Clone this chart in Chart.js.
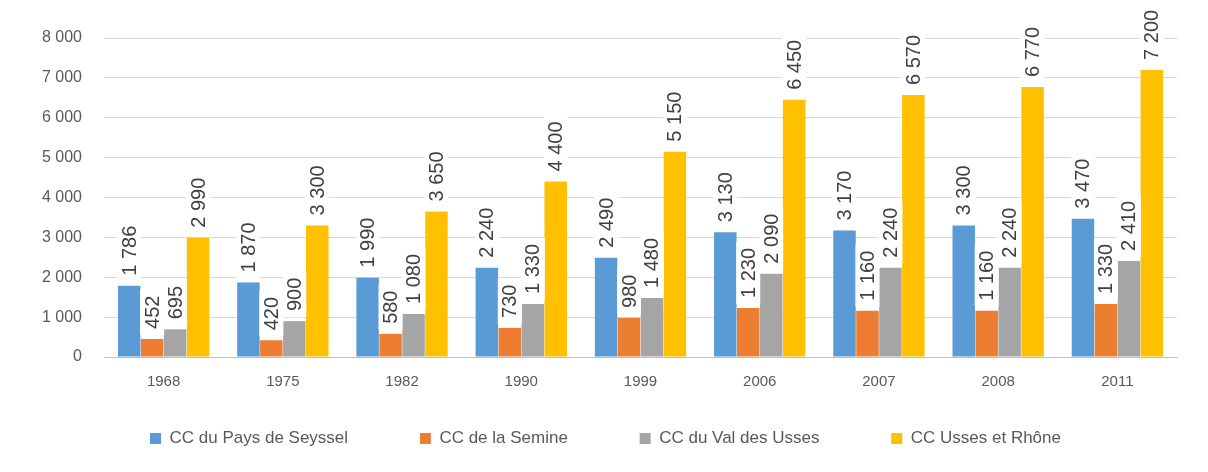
<!DOCTYPE html>
<html lang="fr">
<head>
<meta charset="utf-8">
<title>Population des communautés de communes</title>
<script src="https://cdn.jsdelivr.net/npm/chart.js@4.4.1/dist/chart.umd.min.js"></script>
<style>
  html, body { margin: 0; padding: 0; background: #fff; }
  #wrap { position: relative; width: 1208px; height: 472px; }
</style>
</head>
<body>
<div id="wrap"><canvas id="popChart"></canvas></div>
<script>
// Années de recensement
const annees = ['1968', '1975', '1982', '1990', '1999', '2006', '2007', '2008', '2011'];

// Population par communauté de communes
const paysSeyssel = [1786, 1870, 1990, 2240, 2490, 3130, 3170, 3300, 3470];
const semine = [452, 420, 580, 730, 980, 1230, 1160, 1160, 1330];
const valUsses = [695, 900, 1080, 1330, 1480, 2090, 2240, 2240, 2410];
const ussesRhone = [2990, 3300, 3650, 4400, 5150, 6450, 6570, 6770, 7200];

const couleurs = ['#5B9BD5', '#ED7D31', '#A5A5A5', '#FFC000'];
const gris = '#595959';
const police = '"Liberation Sans", Arial, sans-serif';

function formatNombre(v) {
    return String(v).replace(/\B(?=(\d{3})+(?!\d))/g, ' ');
}

// Étiquettes verticales au-dessus de chaque barre, sur fond blanc
const etiquettesVerticales = {
    id: 'etiquettesVerticales',
    afterDatasetsDraw(chart) {
        const ctx = chart.ctx;
        const taille = 20;
        ctx.save();
        ctx.font = taille + 'px ' + police;
        chart.data.datasets.forEach((ds, i) => {
            const meta = chart.getDatasetMeta(i);
            meta.data.forEach((bar, j) => {
                const txt = formatNombre(ds.data[j]);
                const w = ctx.measureText(txt).width;
                const pad = 6;
                ctx.save();
                ctx.translate(bar.x, bar.y - 4);
                ctx.rotate(-Math.PI / 2);
                ctx.fillStyle = '#ffffff';
                ctx.fillRect(0, -taille / 2 - 2, w + pad * 2, taille + 4);
                ctx.fillStyle = '#404040';
                ctx.textAlign = 'left';
                ctx.textBaseline = 'middle';
                ctx.fillText(txt, pad, 1);
                ctx.restore();
            });
        });
        ctx.restore();
    }
};

const ctx = document.getElementById('popChart').getContext('2d');
new Chart(ctx, {
    type: 'bar',
    data: {
        labels: annees,
        datasets: [
            { label: 'CC du Pays de Seyssel', data: paysSeyssel, backgroundColor: couleurs[0] },
            { label: 'CC de la Semine', data: semine, backgroundColor: couleurs[1] },
            { label: 'CC du Val des Usses', data: valUsses, backgroundColor: couleurs[2] },
            { label: 'CC Usses et Rhône', data: ussesRhone, backgroundColor: couleurs[3] }
        ]
    },
    options: {
        responsive: true,
        maintainAspectRatio: false,
        animation: false,
        devicePixelRatio: 1,
        layout: { padding: { top: 38, right: 31, bottom: 15, left: 34 } },
        datasets: {
            bar: { categoryPercentage: 0.77, barPercentage: 0.98 }
        },
        plugins: {
            legend: {
                position: 'bottom',
                labels: {
                    color: gris,
                    font: { size: 17, family: police },
                    boxWidth: 11,
                    boxHeight: 11,
                    padding: 34,
                    // espaces insécables en fin de libellé pour élargir l'écart entre les entrées
                    generateLabels(chart) {
                        const items = Chart.defaults.plugins.legend.labels.generateLabels(chart);
                        items.forEach((it, k) => {
                            if (k < items.length - 1) it.text += '\u00a0'.repeat(8);
                        });
                        return items;
                    }
                }
            },
            tooltip: { enabled: false }
        },
        scales: {
            x: {
                afterFit(scale) { scale.height = 39; },
                grid: { display: false, drawTicks: false },
                border: { color: '#bfbfbf' },
                ticks: {
                    color: gris,
                    padding: 16,
                    font: { size: 15, family: police }
                }
            },
            y: {
                min: 0,
                max: 8000,
                afterFit(scale) { scale.width = 70; },
                grid: { color: '#d9d9d9', drawTicks: false },
                border: { display: false },
                ticks: {
                    stepSize: 1000,
                    color: gris,
                    padding: 22,
                    font: { size: 16, family: police },
                    callback: v => formatNombre(v)
                }
            }
        }
    },
    plugins: [etiquettesVerticales]
});
</script>
</body>
</html>
